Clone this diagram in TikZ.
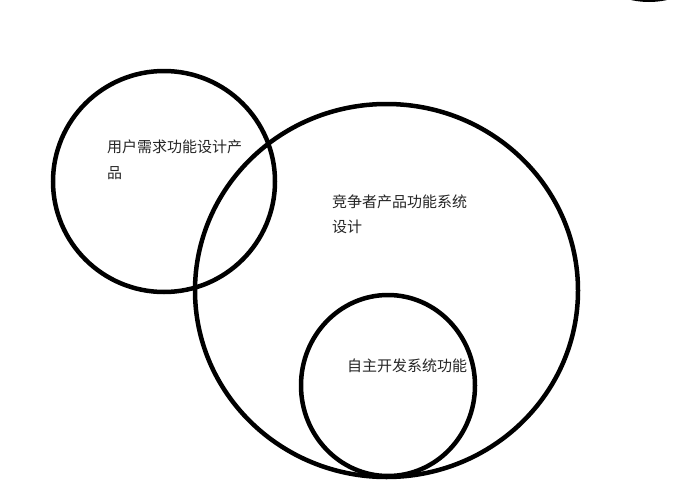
\documentclass[tikz,border=0pt]{standalone}
\usepackage{fontspec}
\newfontfamily\cjk{Noto Sans CJK SC}
\begin{document}
\begin{tikzpicture}[x=1pt,y=-1pt,
  ring/.style={draw=black,line width=4.5pt},
  lbl/.style={font=\cjk\fontsize{15}{25.5}\selectfont,inner sep=0pt,anchor=base west,align=left,text=black!85}]
\useasboundingbox[fill=white] (0,0) rectangle (685,479);
\draw[ring] (164,181.5) ellipse [x radius=111pt, y radius=110.5pt];
\draw[ring] (386.5,290.5) ellipse [x radius=191.5pt, y radius=186.5pt];
\draw[ring] (388,385.5) ellipse [x radius=87pt, y radius=90.5pt];
\begin{scope}
\clip (0,0) rectangle (685,479);
\draw[ring,line width=2.5pt] (649,-80) circle [radius=80.75pt];
\end{scope}
\node[lbl] (user) at (107,178.7) {用户需求功能设计产\\[0.5pt]品};
\node[lbl] (comp) at (332,232.4) {竞争者产品功能系统\\[-0.5pt]设计};
\node[lbl] (self) at (347,371.7) {自主开发系统功能};
\end{tikzpicture}
\end{document}
